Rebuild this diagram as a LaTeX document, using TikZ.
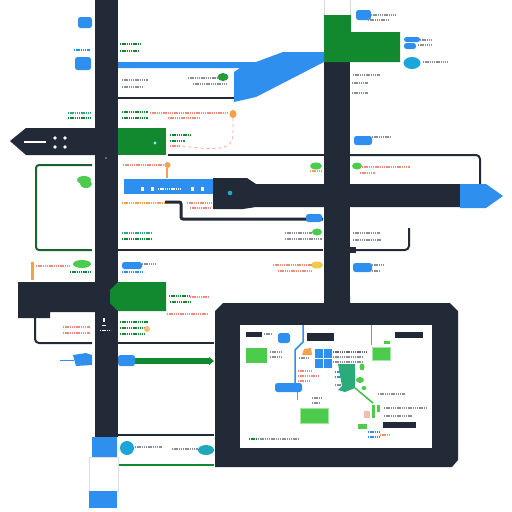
\documentclass[tikz,border=0pt]{standalone}
\usetikzlibrary{arrows.meta}
\definecolor{navy}{HTML}{232A37}
\definecolor{blu}{HTML}{2F8FEF}
\definecolor{grn}{HTML}{13892F}
\definecolor{lgrn}{HTML}{4CCB4C}
\definecolor{cyn}{HTML}{1BA5D8}
\definecolor{salmon}{HTML}{F08C7C}
\definecolor{orng}{HTML}{F5A04A}
\definecolor{yel}{HTML}{F2C94C}
\definecolor{teal}{HTML}{2BAA7A}
\definecolor{txtgray}{HTML}{8A8F99}
\tikzset{
  ptext/.style={line width=1.1pt, dash pattern=on 1.4pt off 0.8pt},
  wire/.style={navy, line width=2pt},
}
% a short row of tiny glyph marks
\newcommand\ptxt[4]{\draw[ptext,#1] (#2,#3) -- ++(#4,0);}
% a small filled blob
\newcommand\blob[5]{\fill[#1, rounded corners=2.5pt] (#2,#3) rectangle (#4,#5);}
\begin{document}
\begin{tikzpicture}[x=1pt,y=-1pt]
\useasboundingbox (0,0) rectangle (512,512);
\fill[white] (0,0) rectangle (512,512);

% ---- spines ----
\fill[navy] (95,0) rectangle (118,437);
\fill[navy] (324,62) rectangle (350,305);
\draw[black!15, line width=0.5pt] (324,0) -- (324,15) (350,0) -- (350,15);
\fill[grn] (324,15) -- (351,15) -- (351,32) -- (400,32) -- (400,62) -- (324,62) -- cycle;

% ---- blue ribbon ----
\fill[blu] (118,62) -- (256,62) -- (283,52) -- (324,52) -- (324,62) -- (256,97)
  -- (234,102) -- (234,72) -- (240,68) -- (118,68) -- cycle;
\draw[wire] (118,98) -- (234,98);

% ---- left arrow ----
\fill[navy] (10,141) -- (26,128) -- (95,128) -- (95,155) -- (26,155) -- cycle;
\draw[white, line width=1.6pt] (24,142) -- (46,142);
\foreach \p in {(55,138),(65,138),(55,147),(65,147)} \fill[white] \p circle (1.8);

% ---- green block upper ----
\fill[grn] (118,128) rectangle (166,155);
\fill[cyan!40!white] (155,143) circle (1.6);

% ---- wires ----
\draw[wire] (168,155) -- (324,155);
\draw[wire, rounded corners=4pt] (350,155) -- (480,155) -- (480,184);
\draw[line width=2pt, grn!60!navy, rounded corners=3pt] (92,165) -- (36,165) -- (36,250) -- (92,250);
\draw[wire] (118,250) -- (323,250);
\draw[wire, rounded corners=4pt] (350,250) -- (409,250) -- (409,228);
\fill[navy] (348,247) rectangle (356,253);

% ---- right arrow band ----
\fill[navy] (213,178) -- (247,178) -- (256,184) -- (460,184) -- (460,207) -- (256,207)
  -- (243,209) -- (213,209) -- cycle;
\fill[blu] (460,184) -- (486,184) -- (503,196) -- (486,208) -- (460,208) -- cycle;
\fill[blu] (124,179) rectangle (213,194);
\foreach \x in {141,151,191,201} \fill[white] (\x,187) rectangle ++(2.5,4);
\draw[ptext, white] (158,189) -- (182,189);
\fill[cyan!80!teal] (230,193) circle (2.3);
\draw[navy, line width=3pt, rounded corners=2pt] (165,202) -- (181,202) -- (181,219) -- (323,219);
\blob{blu}{306}{214}{322}{222}

% ---- lower band ----
\fill[navy] (18,282) -- (95,282) -- (95,312) -- (50,312) -- (50,318) -- (18,318) -- cycle;
\fill[grn] (118,282) -- (166,282) -- (166,311) -- (118,311) -- (110,303) -- (110,290) -- cycle;
\draw[wire, rounded corners=4pt] (35,318) -- (35,343) -- (92,343);
\draw[wire] (118,343) -- (214,343);
\draw[grn, line width=6pt, -{Triangle[length=5pt,width=8pt]}] (128,361) -- (214,361);
\blob{blu}{118}{355}{135}{366}
\draw[blu, line width=1pt] (60,360) -- (74,360);
\fill[blu] (73,355) -- (86,353) -- (92,355) -- (92,365) -- (76,366) -- cycle;
\draw[wire] (118,435) -- (214,435);
\draw[grn, line width=1.5pt] (118,465) -- (214,465);

% spine labels
\fill[white] (103,318) rectangle ++(2,4);
\draw[white, line width=0.8pt] (102,325) -- (106,325);
\draw[white, ptext, line width=0.8pt] (100,330) -- (111,330);
\fill[white!60!navy] (106,158) circle (0.8);

% ---- bottom blocks ----
\fill[blu] (92,437) rectangle (117,457);
\draw[black!12, line width=0.6pt] (89,457) rectangle (118,491);
\fill[blu] (89,491) rectangle (117,508);

% ---- frame ----
\fill[navy] (223,303) -- (325,303) -- (325,296) -- (350,296) -- (350,303) -- (450,303)
  -- (458,311) -- (458,460) -- (452,467) -- (215,467) -- (215,311) -- cycle;
\fill[white] (240,325) rectangle (432,448);

% frame contents
\fill[navy] (246,332) rectangle (262,337);
\ptxt{txtgray}{264}{334}{8}
\blob{blu}{278}{333}{290}{343}
\draw[blu, line width=1.5pt] (303,325) -- (303,342) -- (295,350) -- (295,383);
\draw[txtgray, line width=0.8pt] (297,383) -- (297,400);
\blob{blu}{275}{383}{302}{392}
\fill[navy] (307,333) rectangle (334,341);
\fill[lgrn] (246,348) rectangle (267,363);
\ptxt{txtgray}{270}{352}{13}
\ptxt{txtgray}{270}{357}{13}
\fill[orng] (302,355) -- (304,349) -- (311,348) -- (312,355) -- cycle;
\ptxt{txtgray}{299}{358}{10}
\fill[blu] (315,349) rectangle (332,368);
\draw[white, line width=1pt] (323.5,349) -- (323.5,368) (315,358.5) -- (332,358.5);
\ptxt{navy!70}{333}{352}{34}
\ptxt{txtgray}{333}{357}{30}
\ptxt{txtgray}{333}{362}{30}
\ptxt{blu}{335}{372}{8}
\ptxt{blu}{335}{377}{8}
\ptxt{txtgray}{335}{385}{10}
\ptxt{salmon}{298}{371}{14}
\ptxt{salmon}{298}{376}{22}
\ptxt{salmon}{298}{381}{12}
\fill[teal] (338,364) -- (355,364) -- (355,388) -- (345,392) -- (338,390) -- (342,386) -- cycle;
\draw[lgrn!80!grn, line width=1.5pt] (355,388) -- (373,403);
\fill[lgrn] (362,367) ellipse (2.5 and 3.5);
\fill[lgrn] (360,380) ellipse (4 and 3);
\fill[lgrn] (364,388) ellipse (2.5 and 2);
\draw[txtgray, line width=0.6pt] (371,325) -- (371,345);
\fill[navy] (395,332) rectangle (423,338);
\fill[lgrn] (384,341) rectangle (390,344);
\fill[lgrn!50!white] (372,347) rectangle (391,361);
\fill[lgrn] (373,348) rectangle (390,360);
\ptxt{txtgray}{378}{394}{27}
\fill[lgrn] (372,405) rectangle (375,418);
\fill[lgrn] (377,405) rectangle (380,412);
\fill[salmon!60] (364,411) rectangle (370,418);
\ptxt{txtgray}{384}{408}{43}
\ptxt{txtgray}{384}{416}{28}
\ptxt{txtgray}{312}{398}{10}
\ptxt{txtgray}{312}{403}{8}
\fill[lgrn!50!white] (300,408) rectangle (329,424);
\fill[lgrn] (301,409) rectangle (328,423);
\fill[lgrn] (358,424) rectangle (367,429);
\fill[navy] (383,422) rectangle (416,428);
\ptxt{blu}{368}{432}{12}
\ptxt{blu}{368}{437}{12}
\ptxt{salmon}{380}{435}{10}
\ptxt{grn}{249}{439}{8}
\ptxt{txtgray}{258}{439}{40}

% ---- left-side labels ----
\blob{blu}{78}{17}{92}{28}
\ptxt{blu}{74}{50}{16}
\blob{blu}{75}{57}{91}{70}
\ptxt{grn}{120}{44}{20}
\ptxt{grn}{120}{51}{18}
\ptxt{txtgray}{122}{80}{26}
\ptxt{txtgray}{122}{87}{22}
\fill[grn!70!lgrn] (223,77) ellipse (5.5 and 4);
\ptxt{txtgray}{188}{78}{30}
\ptxt{txtgray}{193}{84}{35}
\ptxt{teal}{68}{113}{24}
\ptxt{grn}{68}{118}{24}
\ptxt{grn}{122}{112}{26}
\ptxt{grn}{122}{118}{26}
\ptxt{salmon}{150}{113}{78}
\ptxt{salmon}{168}{118}{32}
\fill[orng] (233,114) ellipse (3.5 and 4);
\draw[salmon!70, line width=0.8pt, dashed] (233,118) -- (233,134) to[out=-90,in=0] (175,146);
\ptxt{grn}{170}{135}{20}
\ptxt{grn}{170}{141}{15}
\ptxt{salmon}{170}{146}{10}
\ptxt{salmon}{123}{165}{42}
\fill[orng] (167.5,165) circle (3);
\draw[orng, line width=1.5pt] (167,168) -- (167,178);
\fill[lgrn] (84,180) ellipse (7 and 4);
\fill[lgrn] (86,184) ellipse (6 and 4);
\ptxt{orng}{122}{203}{42}
\ptxt{salmon}{187}{203}{25}
\ptxt{salmon}{190}{208}{20}
\ptxt{teal}{122}{233}{30}
\ptxt{grn}{122}{239}{30}
\draw[orng, line width=3pt] (32,262) -- (32,280);
\ptxt{salmon}{36}{266}{34}
\fill[lgrn] (82,264) ellipse (9 and 4);
\ptxt{grn}{70}{272}{22}
\blob{blu}{122}{262}{142}{269}
\ptxt{txtgray}{142}{264}{14}
\ptxt{blu}{122}{272}{22}
\ptxt{grn}{169}{296}{22}
\ptxt{salmon}{190}{297}{18}
\ptxt{grn}{170}{302}{20}
\ptxt{salmon}{167}{314}{41}
\ptxt{salmon}{63}{327}{27}
\ptxt{salmon}{63}{333}{27}
\ptxt{grn}{120}{322}{28}
\ptxt{grn}{120}{328}{25}
\ptxt{grn}{120}{334}{25}
\fill[orng!70] (147,329) circle (3);

% ---- right-side labels ----
\blob{blu}{356}{10}{371}{20}
\ptxt{txtgray}{371}{15}{25}
\ptxt{txtgray}{368}{20}{22}
\blob{blu}{404}{37}{420}{42}
\blob{blu}{404}{43}{416}{49}
\ptxt{txtgray}{420}{40}{12}
\ptxt{txtgray}{418}{45}{14}
\fill[cyn] (412,63) ellipse (8.5 and 6);
\ptxt{txtgray}{423}{62}{25}
\ptxt{txtgray}{353}{75}{27}
\ptxt{txtgray}{352}{83}{16}
\ptxt{txtgray}{352}{93}{16}
\blob{blu}{354}{136}{372}{145}
\ptxt{txtgray}{372}{137}{18}
\fill[lgrn] (316,166) ellipse (6 and 3.5);
\ptxt{orng}{310}{171}{12}
\fill[lgrn] (357,166) ellipse (5 and 3.5);
\ptxt{salmon}{362}{167}{48}
\ptxt{salmon}{360}{173}{15}
\ptxt{txtgray}{285}{233}{27}
\ptxt{txtgray}{285}{239}{37}
\fill[lgrn] (317,232) ellipse (5 and 3.5);
\ptxt{txtgray}{353}{233}{27}
\ptxt{txtgray}{353}{240}{28}
\fill[yel] (317,265) ellipse (6 and 3.5);
\ptxt{salmon}{273}{265}{39}
\ptxt{salmon}{278}{271}{34}
\blob{blu}{353}{263}{372}{272}
\ptxt{txtgray}{372}{265}{13}
\ptxt{txtgray}{372}{271}{8}
\fill[cyn] (127,448) ellipse (7 and 7);
\ptxt{txtgray}{135}{447}{27}
\ptxt{txtgray}{172}{449}{26}
\fill[cyn!70!teal] (206,450) ellipse (8 and 5);
\end{tikzpicture}
\end{document}
